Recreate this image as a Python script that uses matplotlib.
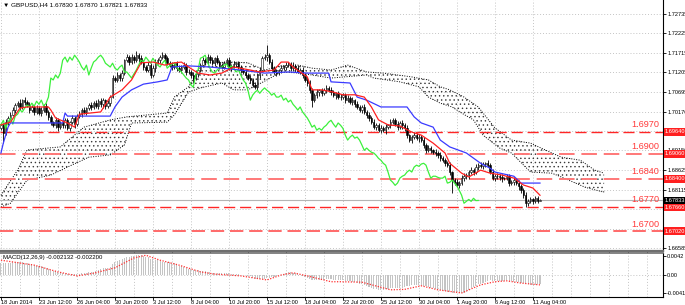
import numpy as np
import matplotlib.pyplot as plt
from matplotlib.ticker import MultipleLocator
from matplotlib.transforms import blended_transform_factory

plt.rcParams['font.family'] = ['Liberation Sans', 'DejaVu Sans']
plt.rcParams['hatch.linewidth'] = 0.5

# ---------------- data (prices in pips above 1.6000) ----------------
first_open = 975
close_pips = [
    981, 960, 989, 1000, 1008, 1021, 1034, 1039, 1029, 1047,
    1042, 1034, 1021, 1029, 1016, 1026, 1013, 1021, 1031, 1016,
    1002, 989, 981, 994, 976, 987, 981, 994, 973, 989,
    1000, 984, 1005, 1010, 1021, 1016, 1026, 1034, 1029, 1039,
    1031, 1044, 1036, 1047, 1031, 1039, 1055, 1105, 1100, 1113,
    1105, 1118, 1152, 1160, 1147, 1160, 1152, 1165, 1157, 1147,
    1134, 1126, 1139, 1113, 1131, 1147, 1152, 1160, 1165, 1157,
    1144, 1139, 1134, 1144, 1131, 1126, 1134, 1139, 1121, 1121,
    1113, 1105, 1116, 1126, 1139, 1152, 1147, 1160, 1152, 1144,
    1157, 1147, 1139, 1134, 1144, 1152, 1131, 1137, 1142, 1144,
    1134, 1126, 1121, 1113, 1105, 1100, 1087, 1081, 1113, 1126,
    1157, 1160, 1165, 1147, 1131, 1121, 1118, 1126, 1131, 1134,
    1139, 1142, 1131, 1137, 1131, 1121, 1126, 1113, 1100, 1092,
    1073, 1047, 1060, 1068, 1073, 1065, 1073, 1079, 1073, 1068,
    1060, 1065, 1055, 1055, 1060, 1047, 1052, 1042, 1047, 1036,
    1029, 1021, 1029, 1016, 1008, 1000, 989, 976, 981, 968,
    973, 968, 976, 981, 989, 994, 984, 976, 987, 981,
    973, 955, 942, 950, 955, 947, 950, 942, 929, 915,
    921, 915, 910, 908, 902, 894, 889, 881, 876, 858,
    837, 831, 823, 829, 842, 847, 850, 858, 863, 858,
    871, 876, 873, 879, 881, 876, 858, 842, 847, 847,
    844, 842, 842, 847, 829, 831, 837, 829, 821, 810,
    797, 776, 781, 786, 781, 789, 783, 783.3,
]
wick_up = [
    6, 5, 8, 4, 7, 9, 5, 6, 10, 4, 7, 5, 8, 6, 4, 9, 5, 7, 6, 8,
    5, 7, 4, 9, 6, 5, 8, 6, 7, 4, 9, 5, 6, 8, 5, 7, 4, 6, 9, 5,
    7, 5, 8, 6, 4, 9, 6, 8, 5, 7, 6, 9, 4, 8, 5, 7, 6, 10, 5, 8,
    6, 4, 9, 5, 7, 8, 6, 5, 9, 6, 7, 5, 8, 4, 6, 9, 5, 7, 6, 8,
    5, 7, 9, 4, 6, 8, 5, 7, 6, 9, 4, 8, 5, 6, 7, 5, 9, 6, 8, 4,
    7, 5, 6, 9, 4, 8, 5, 7, 6, 9, 5, 7, 27, 6, 8, 5, 9, 4, 7, 6,
    8, 5, 6, 9, 4, 7, 5, 8, 6, 7, 9, 5, 6, 8, 4, 7, 6, 9, 5, 8,
    6, 4, 7, 9, 5, 6, 8, 5, 7, 4, 9, 6, 5, 8, 6, 7, 4, 9, 5, 6,
    8, 5, 7, 4, 9, 6, 5, 8, 6, 7, 5, 9, 4, 6, 8, 5, 7, 6, 9, 5,
    7, 6, 4, 8, 5, 9, 6, 7, 5, 8, 4, 6, 9, 5, 7, 8, 6, 5, 9, 6,
    7, 5, 8, 6, 4, 9, 5, 7, 6, 8, 5, 9, 4, 7, 6, 5, 8, 6, 7, 5,
    6, 8, 5, 7, 4, 6, 5, 3.7,
]
wick_dn = [
    7, 26, 5, 8, 6, 4, 9, 5, 7, 6, 8, 5, 9, 4, 7, 6, 5, 8, 6, 9,
    6, 8, 5, 7, 9, 4, 6, 8, 5, 7, 6, 9, 5, 4, 8, 6, 7, 5, 9, 6,
    5, 8, 6, 9, 7, 4, 8, 3, 6, 5, 9, 7, 6, 4, 8, 5, 7, 6, 9, 5,
    7, 6, 5, 8, 4, 9, 6, 7, 5, 8, 6, 4, 9, 5, 7, 6, 8, 5, 9, 6,
    7, 12, 5, 8, 6, 4, 9, 5, 7, 6, 8, 5, 9, 4, 6, 7, 5, 8, 6, 9,
    5, 7, 6, 8, 4, 9, 6, 5, 7, 8, 6, 4, 9, 5, 7, 6, 8, 5, 9, 6,
    7, 5, 8, 6, 9, 4, 6, 7, 5, 8, 6, 18, 5, 7, 9, 6, 4, 8, 5, 7,
    6, 9, 5, 7, 4, 8, 6, 5, 9, 7, 6, 4, 8, 5, 7, 9, 6, 5, 8, 4,
    7, 6, 9, 5, 8, 4, 6, 7, 5, 9, 6, 8, 5, 7, 4, 6, 9, 5, 8, 6,
    5, 7, 4, 9, 6, 8, 5, 7, 6, 9, 35, 6, 5, 8, 4, 7, 6, 9, 5, 7,
    6, 8, 5, 7, 9, 4, 6, 5, 8, 7, 6, 9, 5, 4, 8, 6, 7, 5, 9, 6,
    7, 10, 6, 5, 8, 4, 6, 1.2,
]

# Ichimoku lines: (bar index, pips)
tenkan_bar = [0, 4, 8, 11, 20, 21, 23, 28, 31, 33, 42, 46, 51, 55, 59, 64, 69, 73, 76,
              79, 83, 88, 93, 98, 105, 109, 115, 118, 121, 123, 126, 129, 131, 135, 140,
              144, 149, 153, 156, 159, 163, 168, 173, 177, 182, 187, 189, 194, 197, 202,
              206, 211, 216, 220, 224, 227]
tenkan_pips = [982, 989, 1026, 1029, 1029, 1021, 1000, 987, 976, 1010, 1016, 1055, 1074,
               1100, 1145, 1147, 1139, 1145, 1147, 1134, 1118, 1113, 1118, 1134, 1126,
               1121, 1126, 1147, 1147, 1134, 1121, 1108, 1074, 1074, 1068, 1061, 1061,
               1055, 1029, 995, 982, 979, 963, 955, 934, 908, 881, 855, 845, 863, 855,
               850, 842, 824, 816, 797]
kijun_bar = [0, 1, 3, 4, 26, 27, 28, 46, 48, 51, 55, 60, 66, 70, 72, 79, 88, 101, 111,
             121, 129, 138, 139, 147, 150, 154, 160, 171, 174, 177, 182, 185, 189, 196,
             202, 206, 208, 216, 219, 227]
kijun_pips = [908, 934, 976, 987, 987, 1013, 1005, 1005, 1029, 1055, 1074, 1089, 1095,
              1100, 1134, 1137, 1134, 1126, 1118, 1121, 1118, 1118, 1095, 1092, 1055,
              1047, 1029, 1029, 1003, 987, 976, 942, 924, 908, 881, 868, 858, 847, 829, 829]
span_up_bar = [0, 7, 11, 25, 35, 46, 53, 70, 73, 79, 84, 87, 98, 104, 111, 118, 125,
               131, 139, 146, 154, 161, 173, 180, 185, 189, 195, 201, 208, 215, 223, 232,
               236, 244, 250, 254]
span_up_pips = [797, 863, 916, 924, 976, 995, 1003, 1013, 1055, 1082, 1134, 1145, 1147,
                1145, 1126, 1137, 1139, 1131, 1126, 1139, 1121, 1118, 1108, 1100, 1082,
                1074, 1055, 1029, 974, 942, 934, 908, 897, 889, 863, 855]
span_lo_bar = [0, 4, 11, 21, 28, 37, 46, 52, 55, 70, 73, 79, 84, 93, 98, 104, 112, 118,
               126, 139, 154, 157, 168, 176, 180, 185, 190, 194, 199, 203, 210, 215, 223,
               232, 236, 246, 254]
span_lo_pips = [766, 776, 837, 850, 871, 897, 903, 929, 987, 989, 1008, 1068, 1079, 1092,
                1074, 1074, 1100, 1121, 1118, 1105, 1113, 1105, 1095, 1082, 1055, 1039,
                1029, 1013, 995, 955, 921, 908, 858, 855, 845, 818, 805]
chikou_shift = 26

# MACD main (x 1e-4) per bar, signal line
macd_main = [
    27, 26, 26, 27, 27, 28, 29, 29, 28, 28, 27, 26, 25, 24, 22, 21, 20, 19, 18, 16,
    14, 12, 10, 9, 7, 6, 5, 5, 3, 3, 3, 2, 3, 3, 4, 4, 5, 6, 6, 7,
    10, 11, 13, 15, 15, 16, 18, 24, 28, 31, 33, 35, 38, 40, 41, 42, 43, 44, 44, 44,
    42, 40, 39, 36, 35, 34, 33, 31, 30, 29, 28, 28, 27, 26, 23, 21, 19, 17, 16, 14,
    13, 12, 11, 11, 10, 9, 8, 7, 6, 5, 5, 5, 4, 4, 4, 4, 4, 3, 3, 2,
    2, 1, 0, -1, -2, -3, -6, -9, -10, -9, -8, -8, -7, -6, -5, -4, -3, -1, 1, 3,
    5, 6, 6, 5, 4, 2, 0, -2, -4, -6, -9, -12, -12, -12, -12, -12, -11, -10, -10, -10,
    -11, -11, -12, -12, -12, -13, -13, -14, -15, -16, -18, -20, -21, -23, -25, -27, -29, -31, -31, -33,
    -33, -33, -32, -31, -30, -29, -29, -29, -29, -28, -27, -25, -24, -23, -22, -22, -22, -23, -24, -25,
    -26, -28, -30, -32, -33, -34, -35, -36, -37, -38, -39, -40, -40, -40, -40, -39, -37, -34, -30, -27,
    -24, -21, -19, -17, -15, -13, -12, -13, -13, -13, -13, -13, -13, -12, -13, -14, -15, -15, -16, -17,
    -18, -20, -21, -22, -22, -22, -21, -21,
]
signal_bar = [0, 14, 24, 32, 39, 48, 56, 61, 67, 75, 84, 90, 101, 112, 118, 123, 129, 139,
              143, 152, 164, 170, 177, 184, 194, 202, 208, 213, 219, 227]
signal_vals = [33, 22, 7, -2, 4, 16, 38, 44, 33, 22, 7, 2, -2, -11, 0, 5, -2, -15, -15,
               -16, -33, -32, -24, -33, -40, -22, -15, -13, -18, -22]

# horizontal levels
level_price = [1.6964, 1.6906, 1.6840, 1.6766, 1.6702]
level_text = ["1.6970", "1.6900", "1.6840", "1.6770", "1.6700"]
level_box = ["1.69640", "1.69060", "1.68400", "1.67660", "1.67020"]
level_color = ['#ff2626', '#ff7878', '#ff7878', '#ff2626', '#ff5050']
level_lw = [1.0, 1.4, 1.4, 1.0, 1.2]
last_price = 1.67833

price_ticks = [1.72735, 1.72225, 1.71715, 1.71205, 1.70695, 1.70170, 1.69660,
               1.69150, 1.68625, 1.68115, 1.67605, 1.67095, 1.66585]
# labels hidden behind the level boxes are left blank
price_tick_labels = ["1.72735", "1.72225", "1.71715", "1.71205", "1.70695", "1.70170", "",
                     "1.69150", "1.68625", "1.68115", "", "", "1.66585"]
macd_ticks = [0.0042, 0.0, -0.0041]
macd_tick_labels = ["0.0042", "0.00", "-0.0041"]
date_bars = [0, 16, 32, 48, 64, 80, 96, 112, 128, 144, 160, 176, 192, 208, 224]
date_labels = ["18 Jun 2014", "23 Jun 12:00", "26 Jun 04:00", "30 Jun 20:00", "3 Jul 12:00",
               "8 Jul 04:00", "10 Jul 20:00", "15 Jul 12:00", "18 Jul 04:00", "22 Jul 20:00",
               "25 Jul 12:00", "30 Jul 04:00", "1 Aug 20:00", "6 Aug 12:00", "11 Aug 04:00"]
title = "\u25bc GBPUSD,H4 1.67830 1.67870 1.67821 1.67833"
macd_title = "MACD(12,26,9) -0.002132 -0.002200"


def to_price(p):
    return 1.6 + np.asarray(p, dtype=float) / 1e4


close = to_price(close_pips)
open_ = np.r_[to_price(first_open), close[:-1]]
high = np.maximum(open_, close) + np.asarray(wick_up) / 1e4
low = np.minimum(open_, close) - np.asarray(wick_dn) / 1e4
bars = np.arange(len(close))

fig = plt.figure(figsize=(6.85, 3.05), dpi=100)
ax = fig.add_axes([0, 1 - 251 / 305, 663 / 685, 251 / 305])
ax2 = fig.add_axes([0, 1 - 297 / 305, 663 / 685, 44 / 305], sharex=ax)

XMIN, XMAX = -0.4, 278.8
ax.set_xlim(XMIN, XMAX)
ax.set_ylim(1.66505, 1.73101)
ax2.set_ylim(-0.0049, 0.0049)

grid_kw = dict(color='#c4c4c4', linestyle=(0, (1, 2)), linewidth=0.7)
small = 4.1

# ---- main panel ----
# cloud
poly_x = list(span_up_bar) + list(span_lo_bar)[::-1]
poly_y = list(to_price(span_up_pips)) + list(to_price(span_lo_pips))[::-1]
ax.fill(poly_x, poly_y, facecolor='none', edgecolor='#383838', hatch='....',
        linewidth=0, zorder=2)
ax.plot(span_up_bar, to_price(span_up_pips), color='black', ls=(0, (1, 1.5)), lw=0.7, zorder=2)
ax.plot(span_lo_bar, to_price(span_lo_pips), color='black', ls=(0, (1, 1.5)), lw=0.7, zorder=2)

# levels
trans = blended_transform_factory(ax.transAxes, ax.transData)
for p, t, b, c, w in zip(level_price, level_text, level_box, level_color, level_lw):
    ax.axhline(p, color=c, lw=w, dashes=(8, 3.5), zorder=3)
    ax.annotate(t, xy=(1, p), xycoords=trans, xytext=(-2.5, 2), textcoords='offset points',
                ha='right', va='bottom', color='#ff3a3a', fontsize=6.6, zorder=6)
    ax.text(1.003, p, b, transform=trans, ha='left', va='center', color='white',
            fontsize=small, clip_on=False, zorder=10,
            bbox=dict(boxstyle='square,pad=0.25', fc='#ff2020', ec='none'))
ax.axhline(last_price, color='#b4b4b4', lw=0.8, zorder=3)
ax.text(1.003, last_price, f"{last_price:.5f}", transform=trans, ha='left', va='center',
        color='white', fontsize=small, clip_on=False, zorder=11,
        bbox=dict(boxstyle='square,pad=0.25', fc='black', ec='none'))

# candles
ax.vlines(bars, low, high, color='black', lw=0.6, zorder=4)
body_lo = np.minimum(open_, close)
body_h = np.maximum(np.abs(close - open_), 0.00004)
up = close >= open_
ax.bar(bars[up], body_h[up], bottom=body_lo[up], width=0.6, color='white',
       edgecolor='black', lw=0.4, zorder=4)
ax.bar(bars[~up], body_h[~up], bottom=body_lo[~up], width=0.6, color='black',
       edgecolor='black', lw=0.4, zorder=4)

# ichimoku lines
ax.plot(bars - chikou_shift, close, color='#3cf03c', lw=0.9, zorder=5)
ax.plot(kijun_bar, to_price(kijun_pips), color='#3a3aff', lw=0.9, zorder=5)
ax.plot(tenkan_bar, to_price(tenkan_pips), color='#ff2020', lw=0.9, zorder=5)

ax.text(0.004, 0.992, title, transform=ax.transAxes, ha='left', va='top', fontsize=4.6)

ax.yaxis.tick_right()
ax.set_yticks(price_ticks, price_tick_labels)
ax.tick_params(axis='y', labelsize=small, length=2, pad=1, width=0.6)
ax.grid(True, axis='y', **grid_kw)
ax.xaxis.set_major_locator(MultipleLocator(8))
ax.grid(True, axis='x', which='major', **grid_kw)
ax.tick_params(axis='x', length=0, labelbottom=False)
for s in ['left', 'top']:
    ax.spines[s].set_visible(False)
ax.spines['right'].set_linewidth(0.8)
ax.spines['bottom'].set_color('#6e6e6e')
ax.spines['bottom'].set_linewidth(1.6)

# ---- MACD panel ----
ax2.bar(bars, np.asarray(macd_main) / 1e4, width=0.45, color='#c4c4c4', zorder=2)
ax2.plot(signal_bar, np.asarray(signal_vals) / 1e4, color='#ff3030',
         ls=(0, (1, 1.2)), lw=0.9, zorder=3)
ax2.axhline(0, **grid_kw)
ax2.text(0.004, 0.95, macd_title, transform=ax2.transAxes, ha='left', va='top', fontsize=4.3)
ax2.yaxis.tick_right()
ax2.set_yticks(macd_ticks, macd_tick_labels)
ax2.tick_params(axis='y', labelsize=small, length=2, pad=1, width=0.6)
ax2.set_xticks(date_bars, date_labels)
ax2.xaxis.set_minor_locator(MultipleLocator(8))
ax2.grid(True, axis='x', which='both', **grid_kw)
ax2.tick_params(axis='x', which='major', labelsize=small, length=2, pad=0.5, width=0.6)
ax2.tick_params(axis='x', which='minor', length=0)
for lbl in ax2.get_xticklabels():
    lbl.set_horizontalalignment('left')
ax2.spines['left'].set_visible(False)
ax2.spines['top'].set_color('#6e6e6e')
ax2.spines['top'].set_linewidth(1.2)
ax2.spines['right'].set_linewidth(0.8)
ax2.spines['bottom'].set_linewidth(0.8)

fig.savefig('out.png', dpi=100)
